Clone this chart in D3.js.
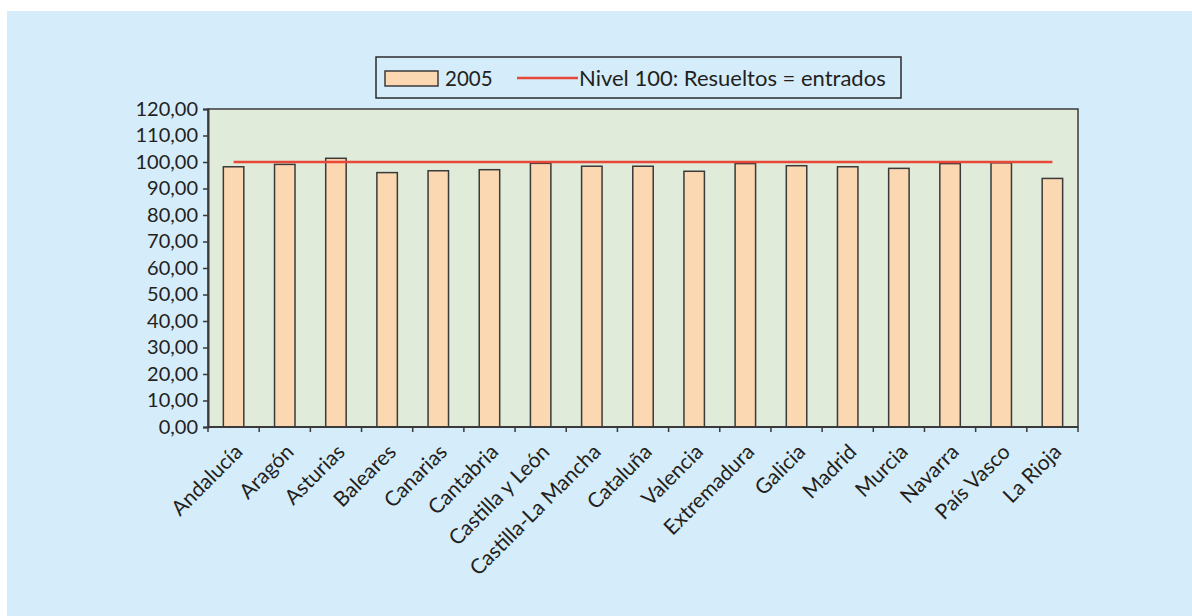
<!DOCTYPE html>
<html>
<head>
<meta charset="utf-8">
<script src="https://cdn.jsdelivr.net/npm/d3@7"></script>
<style>
  body { margin: 0; background: #fff; }
  svg text { font-family: Lato, "Open Sans", sans-serif; fill: #231f20; }
</style>
</head>
<body>
<div id="root"></div>
<script>
// data
const regions = ['Andalucía', 'Aragón', 'Asturias', 'Baleares', 'Canarias', 'Cantabria',
  'Castilla y León', 'Castilla-La Mancha', 'Cataluña', 'Valencia', 'Extremadura',
  'Galicia', 'Madrid', 'Murcia', 'Navarra', 'País Vasco', 'La Rioja'];
const values2005 = [98.2, 99.1, 101.4, 96.0, 96.7, 97.1, 99.5, 98.4, 98.4, 96.5,
  99.4, 98.6, 98.2, 97.6, 99.4, 99.7, 93.8];
const levelValue = 100;
const yTicks = [0, 10, 20, 30, 40, 50, 60, 70, 80, 90, 100, 110, 120];
const seriesLabel = '2005';
const levelLabel = 'Nivel 100: Resueltos = entrados';

const width = 1192;
const height = 616;

// plot area in page pixels
const plot = { left: 208, right: 1078, top: 109, bottom: 427 };

const svg = d3.select('#root').append('svg')
  .attr('width', width)
  .attr('height', height);

// outer light blue panel
svg.append('rect')
  .attr('x', 7).attr('y', 11)
  .attr('width', width - 7).attr('height', height - 11)
  .attr('fill', '#d5ecfa');

const x = d3.scaleBand()
  .domain(regions)
  .range([plot.left, plot.right]);

const y = d3.scaleLinear()
  .domain([0, 120])
  .range([plot.bottom, plot.top]);

// plot background
svg.append('rect')
  .attr('x', plot.left).attr('y', plot.top)
  .attr('width', plot.right - plot.left)
  .attr('height', plot.bottom - plot.top)
  .attr('fill', '#e0ecd9')
  .attr('stroke', '#3a3a3a')
  .attr('stroke-width', 1.5);

// bars
const barW = x.bandwidth() * 0.4;
svg.append('g').selectAll('rect')
  .data(regions)
  .enter()
  .append('rect')
  .attr('x', d => x(d) + (x.bandwidth() - barW) / 2)
  .attr('y', (d, i) => y(values2005[i]))
  .attr('width', barW)
  .attr('height', (d, i) => y(0) - y(values2005[i]))
  .attr('fill', '#fbd7b2')
  .attr('stroke', '#3a3a3a')
  .attr('stroke-width', 1.5);

// level 100 line
const line = d3.line()
  .x(d => x(d) + x.bandwidth() / 2)
  .y(() => y(levelValue));
svg.append('path')
  .datum(regions)
  .attr('d', line)
  .attr('fill', 'none')
  .attr('stroke', '#e8483a')
  .attr('stroke-width', 2.5);

// y axis
const yAxis = d3.axisLeft(y)
  .tickValues(yTicks)
  .tickSize(5)
  .tickPadding(5)
  .tickFormat(d => d3.format('.2f')(d).replace('.', ','));
const gy = svg.append('g')
  .attr('transform', `translate(${plot.left},0)`)
  .call(yAxis);
gy.select('.domain').attr('stroke', '#3a3a3a').attr('stroke-width', 2);
gy.selectAll('.tick line').attr('stroke', '#3a3a3a').attr('stroke-width', 1.5);
gy.selectAll('.tick text').style('font-size', '20px').attr('fill', '#231f20');

// x axis ticks at category boundaries
const bounds = regions.map(d => x(d)).concat([plot.right]);
const gx = svg.append('g');
gx.append('line')
  .attr('x1', plot.left).attr('x2', plot.right)
  .attr('y1', plot.bottom).attr('y2', plot.bottom)
  .attr('stroke', '#3a3a3a').attr('stroke-width', 2);
gx.selectAll('.xtick')
  .data(bounds)
  .enter()
  .append('line')
  .attr('class', 'xtick')
  .attr('x1', d => d).attr('x2', d => d)
  .attr('y1', plot.bottom).attr('y2', plot.bottom + 5)
  .attr('stroke', '#3a3a3a').attr('stroke-width', 1.5);

gx.selectAll('.xlabel')
  .data(regions)
  .enter()
  .append('text')
  .attr('class', 'xlabel')
  .attr('text-anchor', 'end')
  .attr('transform', d => `translate(${x(d) + x.bandwidth() / 2 + 5},${plot.bottom + 21}) rotate(-45)`)
  .attr('dy', '0.35em')
  .style('font-size', '21px')
  .text(d => d);

// legend
const legend = svg.append('g');
legend.append('rect')
  .attr('x', 376).attr('y', 57)
  .attr('width', 525).attr('height', 41)
  .attr('fill', '#d5ecfa')
  .attr('stroke', '#2a2a2a')
  .attr('stroke-width', 1.5);
legend.append('rect')
  .attr('x', 385).attr('y', 71)
  .attr('width', 53).attr('height', 15)
  .attr('fill', '#fbd7b2')
  .attr('stroke', '#3a3a3a')
  .attr('stroke-width', 1.5);
legend.append('text')
  .attr('x', 445).attr('y', 86)
  .style('font-size', '20.5px')
  .text(seriesLabel);
legend.append('line')
  .attr('x1', 517).attr('x2', 578)
  .attr('y1', 78).attr('y2', 78)
  .attr('stroke', '#e8483a')
  .attr('stroke-width', 2.5);
legend.append('text')
  .attr('x', 579).attr('y', 86)
  .style('font-size', '22px')
  .text(levelLabel);
</script>
</body>
</html>
